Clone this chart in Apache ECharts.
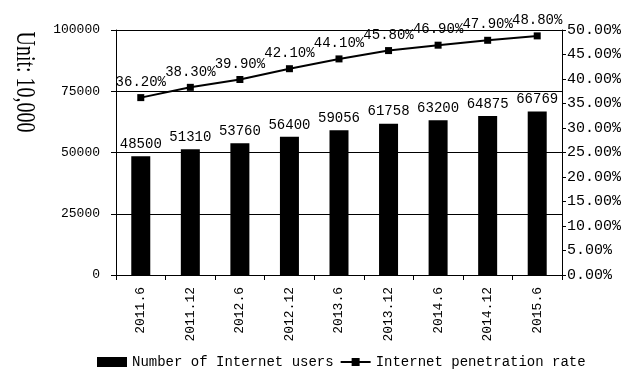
<!DOCTYPE html>
<html>
<head>
<meta charset="utf-8">
<script src="https://cdn.jsdelivr.net/npm/echarts@6/dist/echarts.min.js"></script>
<style>
html,body{margin:0;padding:0;background:#fff;}
#chart{width:624px;height:371px;}
</style>
</head>
<body>
<div id="chart"></div>
<script>
var categories = ['2011.6','2011.12','2012.6','2012.12','2013.6','2013.12','2014.6','2014.12','2015.6'];
var users = [48500,51310,53760,56400,59056,61758,63200,64875,66769];
var penetration = [36.2,38.3,39.9,42.1,44.1,45.8,46.9,47.9,48.8];
var unitLabel = 'Unit: 10,000';
var seriesNames = ['Number of Internet users','Internet penetration rate'];

var mono = '"Liberation Mono", "DejaVu Sans Mono", monospace';
var chart = echarts.init(document.getElementById('chart'), null, {renderer:'canvas'});
chart.setOption({
  backgroundColor:'#fff',
  animation:false,
  grid:{left:116, right:58, top:30, bottom:96, containLabel:false},
  legend:{
    left:92, top:355, itemWidth:30, itemHeight:10, itemGap:6, padding:[0,5,0,5],
    textStyle:{fontFamily:mono, fontSize:14, color:'#000'},
    data:[{name:seriesNames[0], icon:'rect'},{name:seriesNames[1]}]
  },
  graphic:[
    {type:'text', x:24, y:82, rotation:-Math.PI/2, scaleY:1.35,
     style:{text:unitLabel, fontFamily:'"Liberation Serif", "Times New Roman", serif', fontSize:20, fill:'#000', align:'center', verticalAlign:'middle'}}
  ],
  xAxis:{
    type:'category', data:categories, boundaryGap:true,
    axisLine:{lineStyle:{color:'#000', width:1}},
    axisTick:{show:true, alignWithLabel:false, length:5, lineStyle:{color:'#000'}},
    axisLabel:{rotate:90, margin:12, fontFamily:mono, fontSize:13, color:'#000', interval:0}
  },
  yAxis:[
    {type:'value', min:0, max:100000, interval:25000,
     axisLine:{show:true, lineStyle:{color:'#000'}},
     axisTick:{show:true, length:5, lineStyle:{color:'#000'}},
     axisLabel:{margin:16, fontFamily:mono, fontSize:13, color:'#000', formatter:function(v){return String(v);}},
     splitLine:{show:true, lineStyle:{color:'#000', width:1, type:'solid'}}},
    {type:'value', min:0, max:50, interval:5, position:'right',
     axisLine:{show:true, lineStyle:{color:'#000'}},
     axisTick:{show:true, length:4, lineStyle:{color:'#000'}},
     axisLabel:{margin:5, fontFamily:mono, fontSize:15, color:'#000', formatter:function(v){return v.toFixed(2)+'%';}},
     splitLine:{show:false}}
  ],
  series:[
    {name:seriesNames[0], type:'bar', data:users, yAxisIndex:0, barWidth:19,
     itemStyle:{color:'#000'},
     label:{show:true, position:'top', distance:5, fontFamily:mono, fontSize:14, color:'#000'}},
    {name:seriesNames[1], type:'line', data:penetration, yAxisIndex:1, z:5,
     symbol:'rect', symbolSize:7,
     lineStyle:{color:'#000', width:2}, itemStyle:{color:'#000'},
     label:{show:true, position:'top', distance:5, fontFamily:mono, fontSize:14, color:'#000',
       formatter:function(p){return p.value.toFixed(2)+'%';}}}
  ]
});
</script>
</body>
</html>
